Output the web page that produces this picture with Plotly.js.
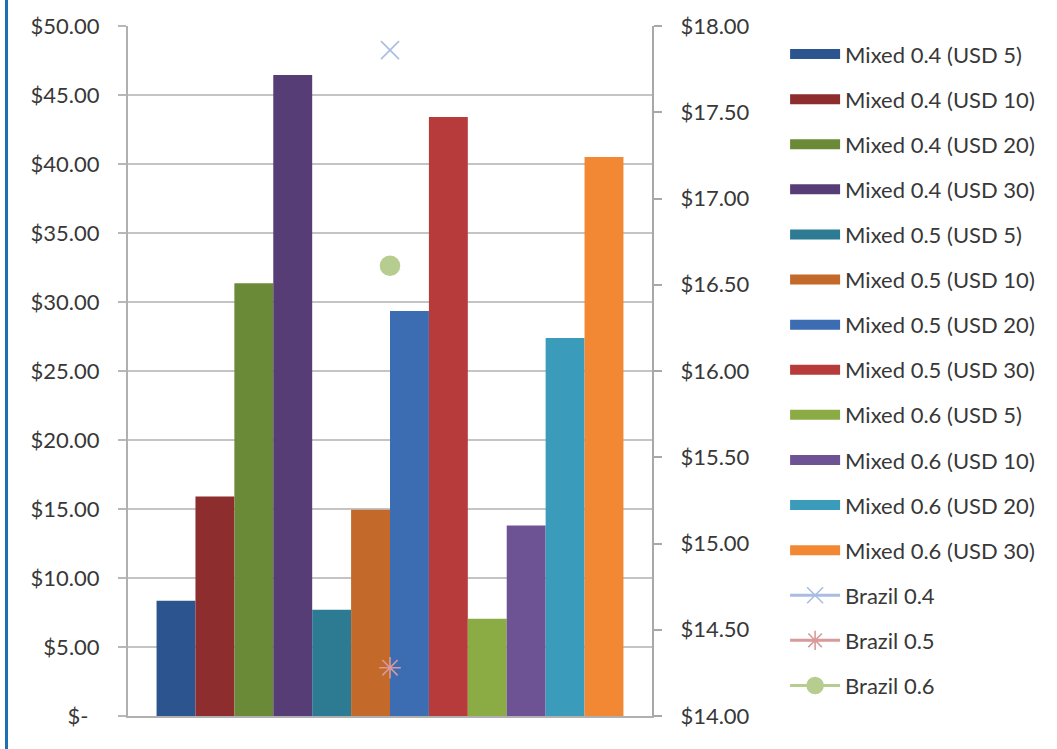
<!DOCTYPE html>
<html>
<head>
<meta charset="utf-8">
<script src="https://cdn.plot.ly/plotly-3.0.1.min.js"></script>
<style>
  html, body { margin: 0; padding: 0; background: #ffffff; }
  #wrap { position: relative; width: 1057px; height: 749px; overflow: hidden; }
  #frame { position: absolute; left: 5px; top: 0; width: 3px; height: 749px; background: #1b70b8; z-index: 5; }
  #chart { position: absolute; left: 0; top: 0; width: 1057px; height: 749px; }
</style>
</head>
<body>
<div id="wrap">
  <div id="frame"></div>
  <div id="chart"></div>
</div>
<script>
// Mixed price series (left axis, USD)
const category = ['Price'];
const mixedNames = [
  'Mixed 0.4 (USD 5)', 'Mixed 0.4 (USD 10)', 'Mixed 0.4 (USD 20)', 'Mixed 0.4 (USD 30)',
  'Mixed 0.5 (USD 5)', 'Mixed 0.5 (USD 10)', 'Mixed 0.5 (USD 20)', 'Mixed 0.5 (USD 30)',
  'Mixed 0.6 (USD 5)', 'Mixed 0.6 (USD 10)', 'Mixed 0.6 (USD 20)', 'Mixed 0.6 (USD 30)'
];
const mixedValues = [8.35, 15.9, 31.35, 46.45, 7.7, 14.95, 29.35, 43.4, 7.05, 13.8, 27.4, 40.5];
const mixedColors = [
  '#2c5590', '#8e2d2d', '#6b8a37', '#573d75',
  '#2c7b92', '#c3692a', '#3c6db3', '#b63b3a',
  '#8bab45', '#6d5394', '#3a9bbb', '#f28834'
];

// Brazil reference prices (right axis, USD)
const brazilNames = ['Brazil 0.4', 'Brazil 0.5', 'Brazil 0.6'];
const brazilValues = [17.86, 14.28, 16.61];
const brazilColors = ['#a9bde0', '#d89a9a', '#b7cd8f'];
const brazilSymbols = ['x-thin-open', 'asterisk-open', 'circle'];

// Axis tick labels
const leftTickVals = [0, 5, 10, 15, 20, 25, 30, 35, 40, 45, 50];
const leftTickText = ['$-\u00a0\u00a0', '$5.00', '$10.00', '$15.00', '$20.00', '$25.00',
                      '$30.00', '$35.00', '$40.00', '$45.00', '$50.00'];
const rightTickVals = [14, 14.5, 15, 15.5, 16, 16.5, 17, 17.5, 18];
const rightTickText = ['$14.00', '$14.50', '$15.00', '$15.50', '$16.00', '$16.50',
                       '$17.00', '$17.50', '$18.00'];

const traces = [];

// Bars, one trace per series
mixedNames.forEach((name, i) => {
  traces.push({
    type: 'bar',
    name: name,
    x: category,
    y: [mixedValues[i]],
    marker: { color: mixedColors[i], line: { width: 0 } },
    legendgroup: 'g' + i,
    showlegend: false,
    hovertemplate: name + ': $%{y:.2f}<extra></extra>'
  });
});

// Wide legend swatches for the bar series
mixedNames.forEach((name, i) => {
  traces.push({
    type: 'scatter',
    mode: 'lines',
    name: name,
    x: [null],
    y: [null],
    line: { color: mixedColors[i], width: 10 },
    legendgroup: 'g' + i,
    showlegend: true,
    hoverinfo: 'skip'
  });
});

// Brazil markers on the secondary axis
brazilNames.forEach((name, i) => {
  traces.push({
    type: 'scatter',
    mode: 'lines+markers',
    name: name,
    x: category,
    y: [brazilValues[i]],
    yaxis: 'y2',
    line: { color: brazilColors[i], width: 3 },
    marker: {
      symbol: brazilSymbols[i],
      color: brazilColors[i],
      size: i === 2 ? 19 : 18,
      line: { color: brazilColors[i], width: 1.6 }
    },
    legendgroup: 'g' + (12 + i),
    hovertemplate: name + ': $%{y:.2f}<extra></extra>'
  });
});

const textFont = { family: 'Lato, "Open Sans", sans-serif', size: 22, color: '#383838' };

const layout = {
  width: 1057,
  height: 749,
  margin: { l: 128, r: 405, t: 26, b: 33, pad: 0 },
  paper_bgcolor: 'rgba(0,0,0,0)',
  plot_bgcolor: '#ffffff',
  font: textFont,
  barmode: 'group',
  bargap: 0.109,
  bargroupgap: 0,
  showlegend: true,
  legend: {
    x: 1.254, xanchor: 'left',
    y: 0.9895, yanchor: 'top',
    traceorder: 'grouped',
    tracegroupgap: 13.5,
    itemwidth: 50,
    itemclick: false,
    itemdoubleclick: false,
    font: textFont,
    bgcolor: 'rgba(0,0,0,0)'
  },
  xaxis: {
    type: 'category',
    showticklabels: false,
    ticks: '',
    showgrid: false,
    zeroline: false,
    showline: true,
    linecolor: '#b0b0b0',
    linewidth: 2,
    fixedrange: true
  },
  yaxis: {
    range: [0, 50],
    tickmode: 'array',
    tickvals: leftTickVals,
    ticktext: leftTickText,
    ticks: 'outside',
    ticklen: 8,
    tickwidth: 2,
    tickcolor: '#b8b8b8',
    ticklabelstandoff: 14,
    showgrid: true,
    gridcolor: '#c4c4c4',
    gridwidth: 2,
    zeroline: false,
    showline: true,
    linecolor: '#b0b0b0',
    linewidth: 2,
    tickfont: textFont,
    fixedrange: true
  },
  yaxis2: {
    overlaying: 'y',
    side: 'right',
    range: [14, 18],
    tickmode: 'array',
    tickvals: rightTickVals,
    ticktext: rightTickText,
    ticks: 'outside',
    ticklen: 8,
    tickwidth: 2,
    tickcolor: '#a8a8a8',
    ticklabelstandoff: 14,
    showgrid: false,
    zeroline: false,
    showline: true,
    linecolor: '#a8a8a8',
    linewidth: 2,
    tickfont: textFont,
    fixedrange: true
  }
};

Plotly.newPlot('chart', traces, layout, { displayModeBar: false });
</script>
</body>
</html>
